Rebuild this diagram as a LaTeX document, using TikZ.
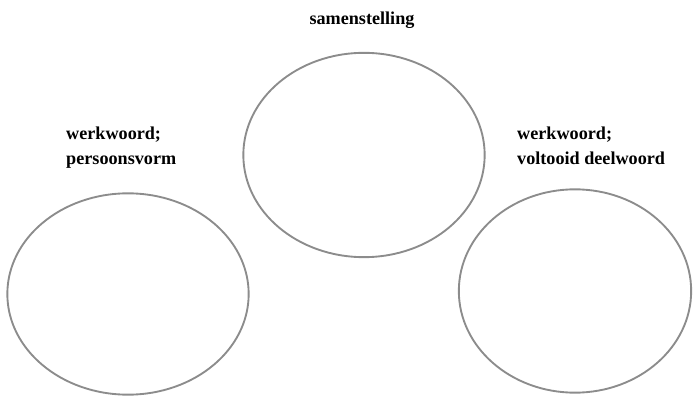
\documentclass[tikz,border=0pt]{standalone}
\usepackage{fontspec}
\setmainfont{Liberation Serif}
\usetikzlibrary{shapes.geometric}
\definecolor{ringgray}{RGB}{140,140,140}
\tikzset{
	ring/.style={ellipse, draw=ringgray, line width=1.6pt, inner sep=0pt},
	wordlabel/.style={font=\fontsize{15.5}{21.5}\selectfont\bfseries, align=left, inner sep=0pt}
}
\begin{document}
\begin{tikzpicture}[x=0.03cm, y=-0.03cm]
			\useasboundingbox (0, 0) rectangle (694, 397);

			% de drie ellipsen
			\node[ring, minimum width=7.24cm, minimum height=6.13cm] (mid)   at (364, 155) {};
			\node[ring, minimum width=7.24cm, minimum height=6.04cm] (left)  at (128, 294) {};
			\node[ring, minimum width=6.97cm, minimum height=6.10cm] (right) at (575, 291) {};

			% opschriften
			\node[wordlabel, anchor=base] (midlabel) at (362, 25) {samenstelling};
			\node[wordlabel, anchor=base west] (leftlabel) at (66, 165) {werkwoord;\\persoonsvorm};
			\node[wordlabel, anchor=base west] (rightlabel) at (517, 165) {werkwoord;\\voltooid deelwoord};
		\end{tikzpicture}
\end{document}
